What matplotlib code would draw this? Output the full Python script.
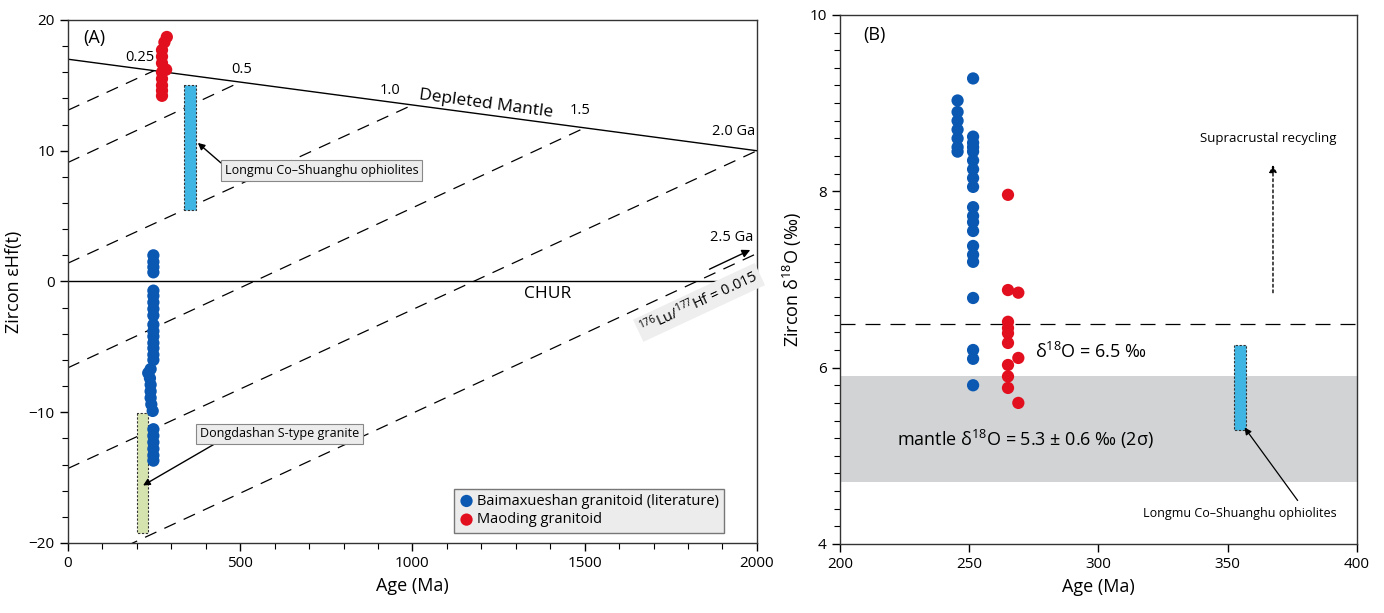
import matplotlib
matplotlib.use("Agg")
import matplotlib.pyplot as plt
from matplotlib.ticker import MultipleLocator

plt.rcParams["font.family"] = ["Open Sans", "DejaVu Sans"]
plt.rcParams["mathtext.fontset"] = "custom"
plt.rcParams["mathtext.rm"] = "Open Sans"
plt.rcParams["mathtext.it"] = "Open Sans:italic"

BLUE = "#0b58b2"
RED = "#e20f1f"
CYAN = "#3fb5e4"
GREEN = "#d5e3ae"

# ---- panel A data ----
dm_age = [0, 2000]
dm_ehf = [17.0, 10.0]
# crustal evolution lines (176Lu/177Hf = 0.015): model age, eHf at 0 Ma
evo_age = [250, 500, 1000, 1500, 2000, 2500]
evo_ehf0 = [13.1, 9.1, 1.4, -6.6, -14.3, -22.3]

a_blue_age = [248, 248, 248, 248, 248, 248, 248, 248, 248, 248, 248, 248, 248, 248,
              248, 248, 240, 233, 238, 240, 240, 240, 242, 246, 248, 248, 248, 248, 248, 248]
a_blue_ehf = [2.0, 1.5, 1.1, 0.7, -0.7, -1.1, -1.6, -2.1, -2.6, -3.3, -3.8, -4.2, -4.7, -5.1,
              -5.6, -6.0, -6.7, -7.0, -7.4, -7.9, -8.4, -8.9, -9.4, -9.9, -11.3, -11.8,
              -12.3, -12.8, -13.3, -13.7]
a_red_age = [287, 280, 273, 273, 273, 285, 273, 273, 273, 273, 273]
a_red_ehf = [18.7, 18.3, 17.7, 17.2, 16.7, 16.2, 16.0, 15.5, 15.0, 14.6, 14.2]

ophiolite_a = (337, 372, 5.45, 15.0)   # age0, age1, eHf0, eHf1
dongdashan = (200, 232, -19.2, -10.05)

# ---- panel B data ----
b_blue_age = [251.5] * 20 + [245.5] * 7
b_blue_d18o = [9.28, 8.62, 8.55, 8.45, 8.35, 8.25, 8.15, 8.05, 7.82, 7.72, 7.65, 7.55,
               7.38, 7.28, 7.2, 6.79, 6.2, 6.1, 5.8, 8.5,
               9.03, 8.9, 8.8, 8.7, 8.6, 8.5, 8.45]
b_red_age = [265, 265, 265, 265, 265, 265, 265, 265, 265, 269, 269, 269]
b_red_d18o = [7.96, 6.88, 6.52, 6.45, 6.39, 6.28, 6.03, 5.9, 5.77, 6.85, 6.11, 5.6]

mantle_band = (4.7, 5.9)
threshold = 6.5
ophiolite_b = (352.6, 357.2, 5.29, 6.26)

fig = plt.figure(figsize=(13.84, 6.13), dpi=100)
axA = fig.add_axes([0.0491, 0.1142, 0.4978, 0.8532])
axB = fig.add_axes([0.6069, 0.1126, 0.3736, 0.8630])

# ================= panel A =================
axA.plot(dm_age, dm_ehf, color="black", lw=1.0, zorder=2)
axA.axhline(0, color="black", lw=1.0, zorder=2)


def dm_at(t):
    return dm_ehf[0] + (dm_ehf[1] - dm_ehf[0]) * (t - dm_age[0]) / (dm_age[1] - dm_age[0])


for t, e0 in zip(evo_age, evo_ehf0):
    axA.plot([0, t], [e0, dm_at(t)], color="black", lw=0.9, dashes=(10, 7), zorder=2)

tk = dict(fontsize=10.5, color="black")
axA.text(209, 17.1, "0.25", ha="center", va="center", **tk)
axA.text(505, 16.2, "0.5", ha="center", va="center", **tk)
axA.text(935, 14.6, "1.0", ha="center", va="center", **tk)
axA.text(1486, 13.1, "1.5", ha="center", va="center", **tk)
axA.text(1995, 11.5, "2.0 Ga", ha="right", va="center", **tk)
axA.text(1990, 3.4, "2.5 Ga", ha="right", va="center", **tk)
axA.text(1213, 13.6, "Depleted Mantle", ha="center", va="center", fontsize=12.5,
         rotation=-7.6, rotation_mode="anchor")
axA.text(1393, -0.95, "CHUR", ha="center", va="center", fontsize=12.5)
axA.text(1832, -1.6, r"$^{\mathregular{176}}$Lu/$^{\mathregular{177}}$Hf = 0.015",
         ha="center", va="center", fontsize=10.5, rotation=25, rotation_mode="anchor",
         bbox=dict(boxstyle="square,pad=0.2", fc="#eeeeee", ec="none"), zorder=3)
axA.annotate("", xy=(1988, 2.5), xytext=(1855, 0.85),
             arrowprops=dict(arrowstyle="-|>", color="black", lw=1.0, mutation_scale=12), zorder=4)

# reference bars
x0, x1, y0, y1 = ophiolite_a
axA.fill_between([x0, x1], y0, y1, facecolor=CYAN, edgecolor="#333333", lw=0.8,
                 linestyle=(0, (2, 1.5)), zorder=3)
x0, x1, y0, y1 = dongdashan
axA.fill_between([x0, x1], y0, y1, facecolor=GREEN, edgecolor="#333333", lw=0.8,
                 linestyle=(0, (2, 1.5)), zorder=3)

axA.scatter(a_blue_age, a_blue_ehf, s=78, color=BLUE, edgecolors="none", zorder=5,
            label="Baimaxueshan granitoid (literature)")
axA.scatter(a_red_age, a_red_ehf, s=78, color=RED, edgecolors="none", zorder=5,
            label="Maoding granitoid")

boxkw = dict(boxstyle="square,pad=0.3", fc="#ececec", ec="#888888", lw=0.8)
axA.annotate("Longmu Co\u2013Shuanghu ophiolites", xy=(377, 10.6), xytext=(737, 8.5),
             fontsize=9, ha="center", va="center", bbox=boxkw,
             arrowprops=dict(arrowstyle="-|>", color="black", lw=1.0, mutation_scale=10,
                             shrinkA=0, shrinkB=0, relpos=(0.0, 0.8)), zorder=6)
axA.annotate("Dongdashan S-type granite", xy=(218, -15.6), xytext=(615, -11.65),
             fontsize=9, ha="center", va="center", bbox=boxkw,
             arrowprops=dict(arrowstyle="-|>", color="black", lw=1.0, mutation_scale=10,
                             shrinkA=0, shrinkB=0, relpos=(0.13, 0.0)), zorder=6)

leg = axA.legend(loc="lower right", bbox_to_anchor=(0.952, 0.02), fontsize=10.5,
                 frameon=True, fancybox=False, handletextpad=0.2, borderpad=0.35,
                 labelspacing=0.25, handlelength=1.0, borderaxespad=0)
leg.get_frame().set_facecolor("#ececec")
leg.get_frame().set_edgecolor("#777777")
leg.get_frame().set_alpha(1)

axA.text(0.022, 0.982, "(A)", transform=axA.transAxes, fontsize=13, ha="left", va="top")
axA.set_xlim(0, 2000)
axA.set_ylim(-20, 20)
axA.xaxis.set_major_locator(MultipleLocator(500))
axA.xaxis.set_minor_locator(MultipleLocator(100))
axA.yaxis.set_major_locator(MultipleLocator(10))
axA.yaxis.set_minor_locator(MultipleLocator(2))
axA.set_xlabel("Age (Ma)", fontsize=13)
axA.set_ylabel("Zircon \u03b5Hf(t)", fontsize=13)

# ================= panel B =================
axB.axhspan(mantle_band[0], mantle_band[1], color="#d1d3d4", lw=0, zorder=1)
axB.axhline(threshold, color="black", lw=0.9, dashes=(12, 8), zorder=2)
x0, x1, y0, y1 = ophiolite_b
axB.fill_between([x0, x1], y0, y1, facecolor=CYAN, edgecolor="#333333", lw=0.8,
                 linestyle=(0, (2, 1.5)), zorder=3)
axB.scatter(b_blue_age, b_blue_d18o, s=78, color=BLUE, edgecolors="none", zorder=5)
axB.scatter(b_red_age, b_red_d18o, s=78, color=RED, edgecolors="none", zorder=5)

axB.text(275.4, 6.18, "\u03b4$^{\\mathregular{18}}$O = 6.5 \u2030",
         fontsize=13, ha="left", va="center")
axB.text(222, 5.18, "mantle \u03b4$^{\\mathregular{18}}$O = 5.3 \u00b1 0.6 \u2030 (2\u03c3)",
         fontsize=13, ha="left", va="center")
axB.text(365.6, 8.6, "Supracrustal recycling", fontsize=9.5, ha="center", va="center")
axB.annotate("", xy=(367.5, 8.3), xytext=(367.5, 6.85),
             arrowprops=dict(arrowstyle="-|>", color="black", lw=1.0, linestyle=(0, (2, 2)),
                             mutation_scale=11, shrinkA=0, shrinkB=0))
axB.annotate("Longmu Co\u2013Shuanghu ophiolites", xy=(356.5, 5.32), xytext=(354.8, 4.35),
             fontsize=9, ha="center", va="center",
             arrowprops=dict(arrowstyle="-|>", color="black", lw=0.9, mutation_scale=10,
                             shrinkA=3, shrinkB=0, relpos=(0.82, 1.0)))
axB.text(0.045, 0.98, "(B)", transform=axB.transAxes, fontsize=13, ha="left", va="top")
axB.set_xlim(200, 400)
axB.set_ylim(4, 10)
axB.xaxis.set_major_locator(MultipleLocator(50))
axB.yaxis.set_major_locator(MultipleLocator(2))
axB.yaxis.set_minor_locator(MultipleLocator(0.2))
axB.set_xlabel("Age (Ma)", fontsize=13)
axB.set_ylabel("Zircon \u03b4$^{\\mathregular{18}}$O (\u2030)", fontsize=13)

for ax in (axA, axB):
    ax.tick_params(which="major", direction="out", length=6, width=1, labelsize=11)
    ax.tick_params(which="minor", direction="out", length=4, width=0.8)
    for sp in ax.spines.values():
        sp.set_linewidth(1.0)
        sp.set_color("#333333")

fig.savefig("out.png", dpi=100)
